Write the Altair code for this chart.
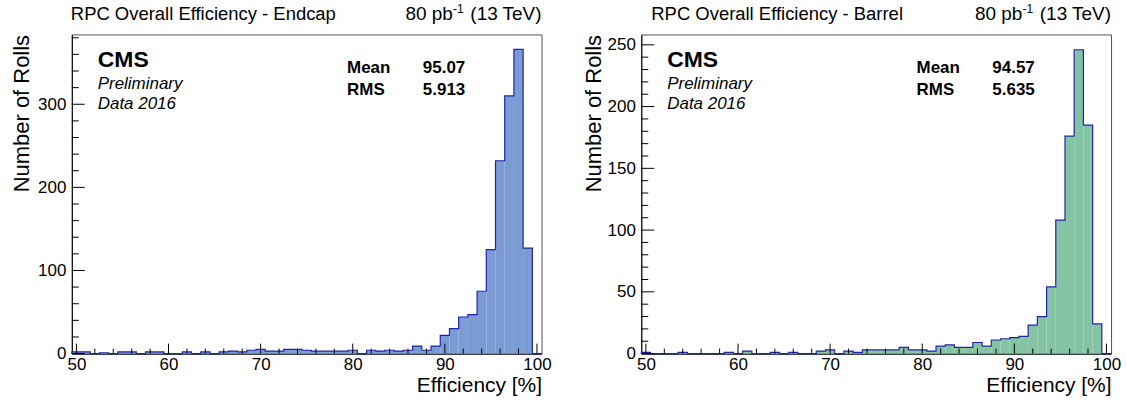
import altair as alt
import pandas as pd

# ---------------- data ----------------
bin_centers = list(range(50, 101))  # 1%-wide bins, edges at x.5

endcap_counts = [2, 2, 0, 1, 0, 2, 2, 0, 2, 2,
                 0, 0, 2, 0, 2, 0, 2, 3, 2, 4,
                 5, 3, 3, 5, 5, 4, 3, 3, 3, 3,
                 4, 0, 4, 3, 4, 3, 4, 9, 4, 9,
                 22, 30, 44, 47, 75, 125, 232, 310, 366, 127,
                 0]

barrel_counts = [1, 0, 0, 0, 1, 0, 0, 0, 0, 1,
                 0, 2, 0, 0, 1, 0, 1, 0, 0, 2,
                 3, 0, 2, 1, 3, 3, 3, 3, 5, 3,
                 3, 2, 6, 7, 5, 5, 9, 6, 11, 12,
                 13, 14, 23, 30, 54, 108, 176, 246, 185, 24,
                 0]

x_major = [50, 60, 70, 80, 90, 100]
x_minor = [v for v in range(50, 101, 2) if v % 10 != 0]
endcap_y_major = [0, 100, 200, 300]
endcap_y_minor = [v for v in range(0, 381, 20) if v % 100 != 0]
barrel_y_major = [0, 50, 100, 150, 200, 250]
barrel_y_minor = [v for v in range(0, 251, 10) if v % 50 != 0]

W, H = 471, 320
FONT = "Liberation Sans"
OUTLINE = "#2323a8"


def panel(counts, fill, ymax, ymaj, ymin, title, mean, rms, ytitle_x, title_x):
    xs = alt.Scale(domain=[49.5, 100.5], nice=False, zero=False)
    ys = alt.Scale(domain=[0, ymax], nice=False, zero=True)
    xaxis = alt.Axis(
        values=x_major, ticks=False, domain=True, domainColor="#000",
        labelFontSize=17, labelFont=FONT, labelColor="#000", labelPadding=3,
        title="Efficiency [%]", titleFontSize=21, titleFont=FONT,
        titleFontWeight="normal", titleColor="#000",
        titleAlign="right", titleAnchor="end", titleX=W, titleY=38,
        titleBaseline="alphabetic", grid=False)
    yaxis = alt.Axis(
        values=ymaj, ticks=False, domain=True, domainColor="#000",
        labelFontSize=17, labelFont=FONT, labelColor="#000", labelPadding=6,
        title="Number of Rolls", titleFontSize=22, titleFont=FONT,
        titleFontWeight="normal", titleColor="#000",
        titleAngle=-90, titleAlign="right", titleBaseline="middle",
        titleX=ytitle_x, titleY=0, grid=False)

    lx = [49.5] + [c - 0.5 for c in bin_centers] + [100.5]
    ly = [0] + list(counts) + [0]
    dline = pd.DataFrame({"x": lx, "y": ly, "i": list(range(len(lx)))})

    area = alt.Chart(dline).mark_area(
        interpolate="step-after", fill=fill, opacity=1
    ).encode(
        x=alt.X("x:Q", scale=xs, axis=xaxis),
        y=alt.Y("y:Q", scale=ys, axis=yaxis),
        order="i:Q",
    )

    outline = alt.Chart(dline).mark_line(
        interpolate="step-after", color=OUTLINE, strokeWidth=1.2
    ).encode(
        x=alt.X("x:Q", scale=xs, axis=xaxis),
        y=alt.Y("y:Q", scale=ys, axis=yaxis),
        order="i:Q",
    )

    def xticks(vals, length):
        return alt.Chart(pd.DataFrame({"v": vals})).mark_rule(
            color="#000", strokeWidth=1
        ).encode(x=alt.X("v:Q", scale=xs, axis=xaxis),
                 y=alt.value(H), y2=alt.value(H - length))

    def yticks(vals, length):
        return alt.Chart(pd.DataFrame({"v": vals})).mark_rule(
            color="#000", strokeWidth=1
        ).encode(y=alt.Y("v:Q", scale=ys, axis=yaxis),
                 x=alt.value(0), x2=alt.value(length))

    def txt(s, x, y, size, weight="normal", style="normal", align="left"):
        return alt.Chart(pd.DataFrame({"t": [s]})).mark_text(
            font=FONT, fontSize=size, fontWeight=weight, fontStyle=style,
            align=align, baseline="alphabetic", color="#000"
        ).encode(text="t:N", x=alt.value(x), y=alt.value(y))

    texts = [
        txt(title, title_x, -14, 18.5),
        txt("(13 TeV)", W, -14, 19, align="right"),
        txt("-1", W - 78, -21, 12, align="right"),
        txt("80 pb", W - 89, -14, 19, align="right"),
        txt("CMS", 26, 33, 23, weight="bold"),
        txt("Preliminary", 26, 55, 17, style="italic"),
        txt("Data 2016", 26, 75, 17, style="italic"),
        txt("Mean", 276, 39, 17, weight="bold"),
        txt(mean, 352, 39, 17, weight="bold"),
        txt("RMS", 276, 61, 17, weight="bold"),
        txt(rms, 352, 61, 17, weight="bold"),
    ]

    return alt.layer(
        area, outline,
        xticks(x_major, 10), xticks(x_minor, 5),
        yticks(ymaj, 13), yticks(ymin, 7),
        *texts
    ).properties(width=W, height=H)


left = panel(endcap_counts, "#7b9bd4", 384, endcap_y_major, endcap_y_minor,
             "RPC Overall Efficiency - Endcap", "95.07", "5.913", -50, -1)
right = panel(barrel_counts, "#85c3a5", 258.4, barrel_y_major, barrel_y_minor,
              "RPC Overall Efficiency - Barrel", "94.57", "5.635", -48, 10)

chart = alt.hconcat(left, right, spacing=29).properties(
    padding={"left": 10, "top": 2, "right": 5, "bottom": 5},
    background="white",
).configure_view(stroke="#555", strokeWidth=1)

chart.save("out.html", embed_options={"renderer": "svg", "actions": False})
